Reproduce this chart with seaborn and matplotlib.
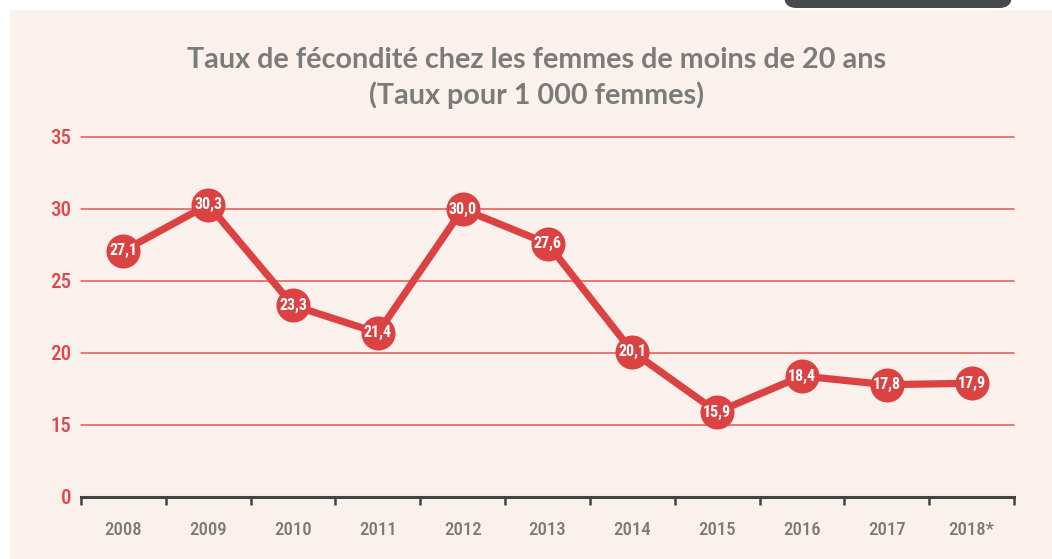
import matplotlib
matplotlib.use("Agg")
import matplotlib.pyplot as plt
from matplotlib import font_manager as fm
from matplotlib.patches import Rectangle, FancyBboxPatch
import matplotlib.transforms as mtrans
import seaborn as sns
import pandas as pd
import numpy as np

years = ["2008", "2009", "2010", "2011", "2012", "2013", "2014", "2015", "2016", "2017", "2018*"]
rates = [27.1, 30.3, 23.3, 21.4, 30.0, 27.6, 20.1, 15.9, 18.4, 17.8, 17.9]
labels = ["27,1", "30,3", "23,3", "21,4", "30,0", "27,6", "20,1", "15,9", "18,4", "17,8", "17,9"]
ytick_pos = [10, 15, 20, 25, 30, 35]
ytick_lab = ["0", "15", "20", "25", "30", "35"]
title1 = "Taux de fécondité chez les femmes de moins de 20 ans"
title2 = "(Taux pour 1 000 femmes)"

sns.set_theme(style="white")

names = {f.name for f in fm.fontManager.ttflist}
cond_props = dict(family="DejaVu Sans", stretch="condensed")
if "Roboto Condensed" in names:
    cond_props = dict(family="Roboto Condensed")
elif "Liberation Sans Narrow" in names:
    cond_props = dict(family="Liberation Sans Narrow")

RED = "#db4242"
GRID = "#e25757"
BG = "#faf0ec"

W, H = 1052, 559
fig = plt.figure(figsize=(W / 100, H / 100), dpi=100, facecolor="white")
fig.patches.append(Rectangle((10 / W, 0), 1 - 10 / W, 1 - 10 / H, transform=fig.transFigure,
                             facecolor=BG, edgecolor="none", zorder=-5))
fig.patches.append(FancyBboxPatch((784 / W, 1 - 8 / H), 228 / W, 40 / H,
                                  boxstyle="round,pad=0,rounding_size=0.012",
                                  transform=fig.transFigure, facecolor="#474a4b", edgecolor="none",
                                  zorder=-4, mutation_aspect=W / H))

ax = fig.add_axes([81 / W, 62 / H, (1014 - 81) / W, (497 - 137) / H])
ax.set_facecolor("none")
ax.set_zorder(2)

df = pd.DataFrame({"x": np.arange(len(years)), "rate": rates})
sns.lineplot(data=df, x="x", y="rate", ax=ax, color=RED, linewidth=5.2, marker="o",
             markersize=24.5, markeredgewidth=0, zorder=3, clip_on=False)

for xi, v, lab in zip(df["x"], rates, labels):
    ax.text(xi, v, lab, ha="center", va="center", color="white", fontsize=11.5,
            fontweight="bold", zorder=5, **cond_props)

ax.set_xlim(-0.5, len(years) - 0.5)
ax.set_ylim(10, 35)
for y in ytick_pos[1:]:
    ax.axhline(y, color=GRID, linewidth=1.1, zorder=1, clip_on=False)

ax.set_yticks(ytick_pos)
ax.set_yticklabels(ytick_lab)
off = mtrans.offset_copy(ax.get_yaxis_transform(), fig=fig, x=0, y=4, units="dots")
for t in ax.get_yticklabels():
    t.set_transform(off)
    t.set_fontproperties(fm.FontProperties(size=15, weight="medium", **cond_props))
    t.set_color("#e04848")
ax.tick_params(axis="y", length=0, pad=7)

ax.set_xticks(df["x"])
ax.set_xticklabels(years)
for t in ax.get_xticklabels():
    t.set_fontproperties(fm.FontProperties(size=13.5, weight="medium", **cond_props))
    t.set_color("#7a7a7a")
ax.tick_params(axis="x", which="major", bottom=False, length=0, pad=17)
ax.set_xticks(np.arange(-0.5, len(years), 1.0), minor=True)
ax.tick_params(axis="x", which="minor", bottom=True, length=6, width=1.8, color="#444444",
               direction="out")

for s in ["top", "right", "left"]:
    ax.spines[s].set_visible(False)
ax.spines["bottom"].set_color("#444444")
ax.spines["bottom"].set_linewidth(2.2)
ax.spines["bottom"].set_zorder(4)
ax.set_xlabel("")
ax.set_ylabel("")

fig.text(537 / W, 1 - 60 / H, title1, ha="center", va="center", fontsize=20.7, fontweight="bold",
         color="#7b7b7b", family="Lato")
fig.text(537 / W, 1 - 95 / H, title2, ha="center", va="center", fontsize=20.7, fontweight="bold",
         color="#7b7b7b", family="Lato")

fig.savefig("out.png", dpi=100, facecolor="white")
